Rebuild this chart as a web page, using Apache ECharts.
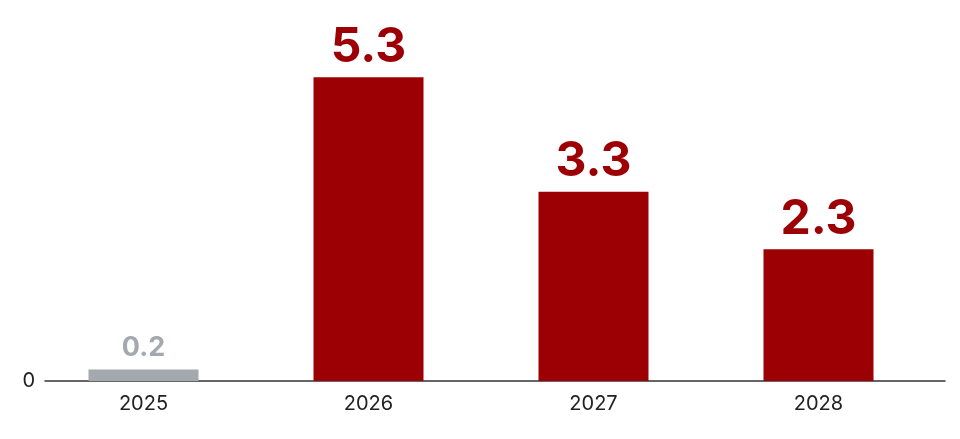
<!DOCTYPE html>
<html><head><meta charset="utf-8">
<script src="https://cdn.jsdelivr.net/npm/echarts@6/dist/echarts.min.js"></script>
<style>html,body{margin:0;padding:0;background:#fff}#c{width:960px;height:439px}</style>
</head><body><div id="c"></div>
<script>
const categories = ['2025', '2026', '2027', '2028'];
const values = [0.2, 5.3, 3.3, 2.3];
const yTicks = [0];

const RED = '#9c0005';
const GRAY = '#a3a9ae';
const FONT = 'Inter, "Liberation Sans", Arial, sans-serif';

const barData = values.map((v, i) => {
  const isGray = i === 0;
  return {
    value: v,
    itemStyle: { color: isGray ? GRAY : RED },
    label: {
      color: isGray ? GRAY : RED,
      fontSize: isGray ? 27 : 48,
      distance: isGray ? 8 : 6
    }
  };
});

const chart = echarts.init(document.getElementById('c'), null, { renderer: 'canvas' });
chart.setOption({
  animation: false,
  backgroundColor: '#fff',
  grid: [
    { left: 31, right: 29, top: 37, bottom: 58 },
    { left: 45, right: 15, top: 37, bottom: 58 }
  ],
  xAxis: [
    {
      type: 'category', data: categories, gridIndex: 0,
      axisLine: { show: false }, axisTick: { show: false },
      axisLabel: { color: '#222', fontSize: 20, fontFamily: FONT, margin: 13 }
    },
    {
      type: 'category', data: categories, gridIndex: 1,
      axisLine: { show: true, lineStyle: { color: '#333', width: 1.5 } },
      axisTick: { show: false }, axisLabel: { show: false }
    }
  ],
  yAxis: [
    { type: 'value', gridIndex: 0, min: 0, max: 6, show: false, splitLine: { show: false } },
    {
      type: 'value', gridIndex: 1, min: 0, max: 6, interval: 6,
      splitLine: { show: false }, axisLine: { show: false }, axisTick: { show: false },
      axisLabel: {
        color: '#222', fontSize: 20, fontFamily: FONT, margin: 10,
        formatter: v => (yTicks.includes(v) ? String(v) : '')
      }
    }
  ],
  series: [{
    type: 'bar', xAxisIndex: 0, yAxisIndex: 0,
    data: barData, barWidth: 110,
    label: {
      show: true, position: 'top', fontWeight: 'bold', fontFamily: FONT,
      formatter: p => p.value.toFixed(1)
    }
  }]
});
</script></body></html>
